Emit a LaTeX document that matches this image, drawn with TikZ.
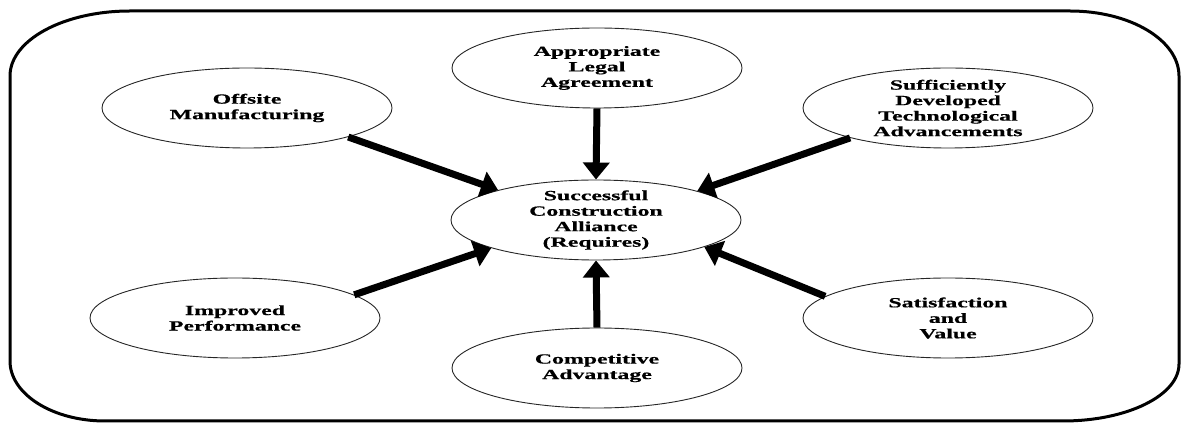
\documentclass[tikz,border=0pt]{standalone}
\usepackage{fontspec}
\newfontfamily\labfont{Liberation Serif}[FakeStretch=1.7,FakeBold=0.6]
\usetikzlibrary{shapes.geometric,arrows.meta}
\begin{document}
\begin{tikzpicture}[x=1pt,y=1pt,
  oval/.style={ellipse,draw=black!85,line width=0.9pt,minimum width=290pt,minimum height=80pt,
    inner xsep=0pt,inner ysep=-6pt,align=center,
    font=\labfont\bfseries\fontsize{14}{15.5}\selectfont},
  bigarrow/.style={line width=7pt,-{Triangle[length=17pt,width=26pt]}},
  frame/.style={line width=3pt,line join=round}]
\useasboundingbox (0,0) rectangle (1181,423);
\draw[frame] (130,412) -- (1070,412)
  arc[start angle=90,end angle=0,x radius=109,y radius=65] -- (1179,59)
  arc[start angle=0,end angle=-90,x radius=116,y radius=57] -- (105,2)
  arc[start angle=270,end angle=180,x radius=95,y radius=60] -- (10,347)
  arc[start angle=180,end angle=90,x radius=120,y radius=65] -- cycle;
\node[oval] (ctr) at (596,203) {Successful\\Construction\\Alliance\\(Requires)};
\node[oval] (off) at (247,315) {Offsite\\Manufacturing};
\node[oval] (legal) at (597,355) {Appropriate\\Legal\\Agreement};
\node[oval] (suff) at (948,315) {Sufficiently\\Developed\\Technological\\Advancements};
\node[oval] (imp) at (235,105) {Improved\\Performance};
\node[oval] (sat) at (948,105) {Satisfaction\\and\\Value};
\node[oval] (comp) at (597,55) {Competitive\\Advantage};
\draw[bigarrow] (off.-16.5) -- (ctr.163.8);
\draw[bigarrow] (legal.south) -- (ctr.north);
\draw[bigarrow] (suff.-163) -- (ctr.16.1);
\draw[bigarrow] (imp.11) -- (ctr.-165.3);
\draw[bigarrow] (comp.north) -- (ctr.south);
\draw[bigarrow] (sat.170.5) -- (ctr.-14);
\end{tikzpicture}
\end{document}
